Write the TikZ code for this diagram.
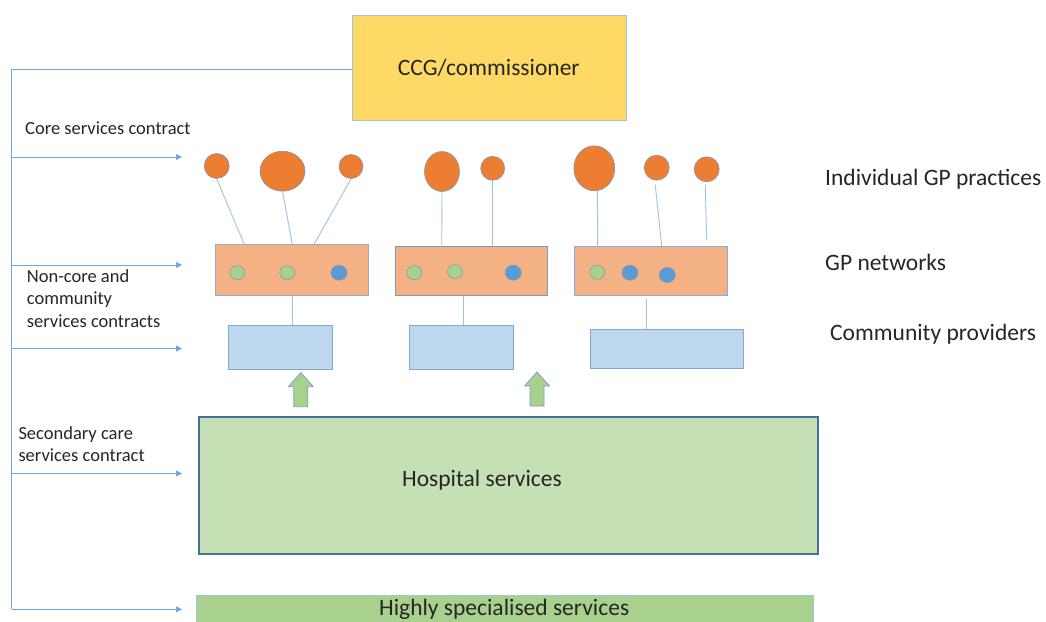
\documentclass[tikz,border=0pt]{standalone}
\usepackage{fontspec}
\setmainfont{Carlito}
\usetikzlibrary{arrows.meta,shapes.geometric}
\definecolor{ccgyellow}{HTML}{FFD966}
\definecolor{ccgedge}{HTML}{9DC3E6}
\definecolor{gporange}{HTML}{ED7D31}
\definecolor{gpedge}{HTML}{8497B0}
\definecolor{netorange}{HTML}{F4B183}
\definecolor{netedge}{HTML}{8FAADC}
\definecolor{dotgreen}{HTML}{A9D18E}
\definecolor{dotblue}{HTML}{5B9BD5}
\definecolor{dotedge}{HTML}{8497B0}
\definecolor{commblue}{HTML}{BDD7EE}
\definecolor{commedge}{HTML}{7FA9D6}
\definecolor{hospgreen}{HTML}{C5E0B4}
\definecolor{hospedge}{HTML}{41719C}
\definecolor{highgreen}{HTML}{A9D18E}
\definecolor{highedge}{HTML}{9DC3E6}
\definecolor{arrowgreen}{HTML}{A9D18E}
\definecolor{arrowedge}{HTML}{7F9FBF}
\definecolor{connblue}{HTML}{6FA8DC}
\definecolor{linkblue}{HTML}{9DC3E6}
\definecolor{textgray}{HTML}{262626}
\begin{document}
\begin{tikzpicture}[x=1pt,y=-1pt,
  bigfont/.style={font=\fontsize{23.5}{28}\selectfont, text=textgray},
  smallfont/.style={font=\fontsize{18.5}{22.5}\selectfont, text=textgray},
  rect/.style={rectangle, inner sep=0pt, anchor=north west, line width=0.8pt},
  ccgbox/.style={rect, fill=ccgyellow, draw=ccgedge},
  netbox/.style={rect, fill=netorange, draw=netedge},
  commbox/.style={rect, fill=commblue, draw=commedge},
  hospbox/.style={rect, fill=hospgreen, draw=hospedge, line width=2pt},
  highbox/.style={rect, fill=highgreen, draw=highedge},
  gp/.style={ellipse, inner sep=0pt, fill=gporange, draw=gpedge, line width=0.6pt},
  gdot/.style={ellipse, inner sep=0pt, fill=dotgreen, draw=dotedge, line width=0.6pt, minimum width=15pt, minimum height=14pt},
  bdot/.style={ellipse, inner sep=0pt, fill=dotblue, draw=dotedge, line width=0.6pt, minimum width=16pt, minimum height=15pt},
  conn/.style={draw=connblue, line width=0.9pt},
  contract/.style={conn, -{Triangle[length=6pt,width=6pt]}},
  link/.style={draw=linkblue, line width=0.9pt},
  blockarrow/.style={fill=arrowgreen, draw=arrowedge, line width=0.8pt, line join=round},
  sidelabel/.style={bigfont, anchor=base west, inner sep=0pt},
  leftlabel/.style={smallfont, anchor=base west, inner sep=0pt, align=left}
]
\useasboundingbox (0,0) rectangle (1046,621);
\clip (0,0) rectangle (1046,621);
\fill[white] (0,0) rectangle (1046,621);

% commissioner
\node[ccgbox, minimum width=274.3pt, minimum height=105pt] (ccg) at (351.7,15) {};
\node[bigfont] (ccgtext) at (488.8,67.5) {CCG/commissioner};

% GP practices
\node[gp, minimum width=25pt, minimum height=25pt] (c1) at (216.7,166) {};
\node[gp, minimum width=45pt, minimum height=40pt] (c2) at (282.5,171.2) {};
\node[gp, minimum width=24pt, minimum height=24pt] (c3) at (351,166.5) {};
\node[gp, minimum width=35pt, minimum height=40pt] (c4) at (442,171.5) {};
\node[gp, minimum width=24pt, minimum height=24pt] (c5) at (492.7,168.3) {};
\node[gp, minimum width=41pt, minimum height=45pt] (c6) at (594.3,168.3) {};
\node[gp, minimum width=25pt, minimum height=25pt] (c7) at (656.7,167.7) {};
\node[gp, minimum width=25pt, minimum height=25pt] (c8) at (706.7,169.3) {};

% GP networks
\node[netbox, minimum width=152.7pt, minimum height=50.7pt] (n1) at (215,244.3) {};
\node[netbox, minimum width=151.7pt, minimum height=49.3pt, draw=gpedge] (n2) at (395,245.7) {};
\node[netbox, minimum width=152.4pt, minimum height=49pt] (n3) at (574.3,246) {};

\node[gdot] (d11) at (237.3,272.7) {};
\node[gdot] (d12) at (287.3,272.7) {};
\node[bdot] (d13) at (339,272.7) {};
\node[gdot] (d21) at (414.3,272.7) {};
\node[gdot] (d22) at (455,271.7) {};
\node[bdot] (d23) at (513.3,272.7) {};
\node[gdot] (d31) at (597.3,272.3) {};
\node[bdot] (d32) at (630,272.7) {};
\node[bdot] (d33) at (667.3,275) {};

% community providers
\node[commbox, minimum width=104pt, minimum height=44pt] (cm1) at (228.3,325) {};
\node[commbox, minimum width=103.7pt, minimum height=44pt] (cm2) at (409,325) {};
\node[commbox, minimum width=152.7pt, minimum height=39pt] (cm3) at (590,329.3) {};

% hospital and specialised
\node[hospbox, minimum width=618.4pt, minimum height=137.3pt] (hosp) at (198.3,416) {};
\node[bigfont] (hosptext) at (482,480) {Hospital services};
\node[highbox, minimum width=617pt, minimum height=32pt] (high) at (195.7,595) {};
\node[bigfont, anchor=base, inner sep=0pt] (hightext) at (504.2,615) {Highly specialised services};

% links practices -> networks
\draw[link] (c1.south) -- ([xshift=29.3pt]n1.north west);
\draw[link] (c2.south) -- ([xshift=77.3pt]n1.north west);
\draw[link] (c3.south) -- ([xshift=99pt]n1.north west);
\draw[link] (c4.south) -- ([xshift=46.7pt]n2.north west);
\draw[link] (c5.south) -- ([xshift=97.7pt]n2.north west);
\draw[link] ([xshift=3pt]c6.south) -- ([xshift=23.4pt]n3.north west);
\draw[link] ([xshift=-1.5pt,yshift=-4pt]c7.south) -- ([xshift=87.4pt]n3.north west);
\coordinate (e8) at (706.7,240);
\draw[link] ([xshift=-1.5pt,yshift=-2pt]c8.south) -- (e8);

% links networks -> community
\path ([xshift=77.3pt]n1.south west) coordinate (l1);
\path ([xshift=68.3pt]n2.south west) coordinate (l2);
\path ([xshift=71.7pt,yshift=-3pt]n3.south west) coordinate (l3);
\draw[link] (l1) -- (l1 |- cm1.north);
\draw[link] (l2) -- (l2 |- cm2.north);
\draw[link] (l3) -- (l3 |- cm3.north);

% block arrows hospital -> community
\coordinate (a1) at (300.8,372.7);
\coordinate (a2) at (537,372);
\foreach \p in {a1,a2}
  \draw[blockarrow] (\p) -- ++(12.5,14) -- ++(-5.5,0) -- ++(0,20) -- ++(-14,0) -- ++(0,-20) -- ++(-5.5,0) -- cycle;

% contract spine
\coordinate (sb) at (11.5,609.3);
\coordinate (t1) at (182,157);
\coordinate (t2) at (182,265);
\coordinate (t3) at (182,348.5);
\coordinate (t4) at (182,473.5);
\coordinate (t5) at (182,609.3);
\draw[conn] ([yshift=-1.5pt]ccg.west) -- ([yshift=-1.5pt]ccg.west -| sb) -- (sb);
\foreach \t in {t1,t2,t3,t4,t5}
  \draw[contract] (\t -| sb) -- (\t);

% labels
\node[leftlabel] (lcore) at (25,134.5) {Core services contract};
\node[leftlabel] (lnon) at (26.7,327) {Non-core and\\community\\services contracts};
\node[leftlabel] (lsec) at (18.3,461.5) {Secondary care\\services contract};

\node[sidelabel] (rgp) at (825,185) {Individual GP practices};
\node[sidelabel] (rnet) at (825,270) {GP networks};
\node[sidelabel] (rcom) at (830,340) {Community providers};
\end{tikzpicture}
\end{document}
